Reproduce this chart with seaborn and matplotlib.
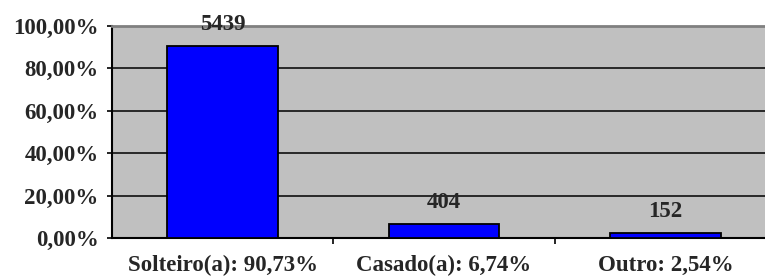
import numpy as np
import pandas as pd
import matplotlib
matplotlib.use('Agg')
import matplotlib.pyplot as plt
import seaborn as sns

# dados do gráfico
categorias = ['Solteiro(a): 90,73%', 'Casado(a): 6,74%', 'Outro: 2,54%']
percentuais = [90.73, 6.74, 2.54]
contagens = [5439, 404, 152]
yticks = [0, 20, 40, 60, 80, 100]

df = pd.DataFrame({'cat': categorias, 'pct': percentuais})

sns.set_style('white')
plt.rcParams['font.family'] = ['Liberation Serif', 'DejaVu Serif']
plt.rcParams['font.weight'] = 'bold'

fig = plt.figure(figsize=(7.65, 2.77), dpi=100)
ax = fig.add_axes([112 / 765, 1 - 238 / 277, 664 / 765, 212 / 277])
ax.set_facecolor('#C0C0C0')

sns.barplot(data=df, x='cat', y='pct', ax=ax, color='#0000FF', width=0.5,
            edgecolor='black', linewidth=1.3, saturation=1, zorder=3)

ax.set_xlim(-0.5, 2.5)
ax.set_ylim(0, 100)
ax.set_yticks(yticks)
ax.set_yticklabels([f'{v:.2f}'.replace('.', ',') + '%' for v in yticks])
ax.yaxis.grid(True, color='black', linewidth=1.1, zorder=0)
ax.set_axisbelow(True)

# marcas do eixo x nas divisas das categorias
ax.set_xticks([0, 1, 2])
ax.set_xticklabels(categorias)
ax.set_xticks([0.5, 1.5], minor=True)
ax.tick_params(axis='x', which='major', length=0, pad=12.5, labelsize=16.5)
ax.tick_params(axis='x', which='minor', length=4, width=1.2, color='black', direction='out')
ax.tick_params(axis='y', length=3.6, width=1.2, color='black', direction='out', pad=6, labelsize=16.5)
ax.tick_params(which='both', bottom=True, left=True)

for s in ['left', 'bottom']:
    ax.spines[s].set_color('black')
    ax.spines[s].set_linewidth(1.5)
ax.spines['top'].set_color('#808080')
ax.spines['top'].set_linewidth(2)
ax.spines['right'].set_visible(False)

for i, (p, c) in enumerate(zip(percentuais, contagens)):
    ax.annotate(str(c), (i, p), xytext=(0, 15.5), textcoords='offset points',
                ha='center', va='center', fontsize=16.5, fontweight='bold',
                clip_on=False, zorder=5)

ax.set_xlabel('')
ax.set_ylabel('')

fig.savefig('out.png', dpi=100)
